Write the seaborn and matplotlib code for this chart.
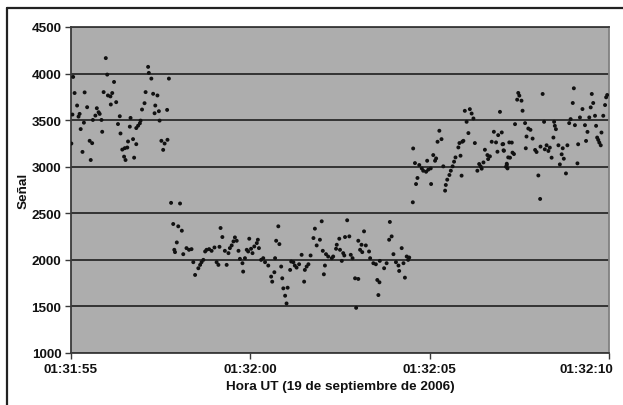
import matplotlib
matplotlib.use("Agg")
import matplotlib.pyplot as plt
import matplotlib.transforms as mtransforms
import seaborn as sns
import pandas as pd
from matplotlib.ticker import FuncFormatter, FixedLocator
from matplotlib.lines import Line2D

# seconds after 01:31:55 UT and signal values
seg1_t = [0.97, 0.06, 1.01, 2.15, 2.17, 2.24, 2.73, 1.20, 0.10, 0.38, 0.91, 1.03, 1.10, 1.15,
          2.08, 2.29, 2.41, 0.17, 0.45, 1.11, 1.26, 2.05, 2.35, 1.98, 2.45, 2.68, 2.33, 0.04,
          0.24, 0.21, 0.72, 0.77, 0.80, 0.68, 0.36, 0.61, 0.85, 1.36, 1.66, 1.31, 1.64, 1.82,
          1.87, 1.92, 1.94, 2.47, 0.27, 0.87, 1.38, 1.73, 1.59, 1.82, 0.52, 0.59, 2.52, 2.61,
          2.69, 2.57, 1.43, 1.50, 1.57, 0.32, 1.48, 1.52, 1.76, 0.55, 0.01]
seg1_v = [4166, 3964, 3989, 4072, 4007, 3946, 3946, 3910, 3791, 3798, 3801, 3765, 3755, 3791,
          3801, 3783, 3765, 3657, 3639, 3668, 3693, 3682, 3657, 3614, 3596, 3610, 3574, 3560,
          3567, 3538, 3628, 3585, 3567, 3549, 3473, 3502, 3502, 3542, 3524, 3458, 3430, 3415,
          3440, 3466, 3495, 3495, 3404, 3375, 3357, 3296, 3271, 3242, 3278, 3253, 3278, 3249,
          3289, 3181, 3184, 3199, 3206, 3159, 3108, 3072, 3097, 3072, 3249]

seg2_t = [2.79, 3.04, 2.85, 2.99, 3.09, 2.95, 2.88, 2.90, 3.13, 3.22, 3.29, 3.36, 3.41, 3.46,
          3.55, 3.60, 3.64, 3.69, 3.74, 3.78, 3.85, 3.92, 4.00, 4.06, 4.11, 4.14, 4.17, 4.22,
          4.29, 4.34, 4.39, 4.43, 4.48, 4.53, 4.57, 4.62, 4.67, 4.71, 4.78, 4.80, 4.85, 4.90,
          4.94, 4.97, 5.02, 5.06, 5.11, 5.18, 5.21, 5.24, 5.30, 5.36, 5.41, 5.50, 5.58, 5.61,
          5.67, 5.69, 5.72, 5.78, 5.81, 5.86, 5.89, 5.92, 5.97, 6.01, 6.04, 6.11, 6.20,
          6.99, 7.70, 8.89, 6.80, 8.17, 6.76, 6.94, 7.64, 7.76, 7.48, 8.94, 8.87, 8.01, 6.85,
          7.41, 8.10, 8.22, 7.02, 7.39, 7.50, 7.59, 7.80, 8.06, 8.12, 8.31, 6.43, 6.68, 7.11,
          7.17, 7.27, 7.31, 7.55, 7.62, 7.85, 8.34, 8.43, 8.50, 8.61, 8.73, 8.80, 8.99, 9.06,
          9.13, 9.22, 9.27, 9.36, 9.40, 9.43, 6.14, 6.24, 6.29, 6.36, 6.52, 6.57, 6.62, 6.50,
          7.08, 7.05, 7.92, 8.01, 8.54, 8.60, 8.57, 7.95, 9.31, 9.15]
seg2_v = [2612, 2605, 2385, 2360, 2313, 2187, 2108, 2083, 2061, 2126, 2108, 2115, 1975, 1838,
          1910, 1946, 1975, 2000, 2090, 2108, 2115, 2097, 2133, 1975, 1946, 2140, 2342, 2245,
          2097, 1946, 2072, 2126, 2155, 2198, 2241, 2205, 2097, 2011, 1964, 1874, 2018, 2108,
          2090, 2227, 2119, 2072, 2144, 2180, 2216, 2126, 2000, 2018, 1975, 1939, 1820, 1766,
          1867, 2018, 2205, 2360, 2169, 1928, 1802, 1694, 1615, 1532, 1701, 1892, 1975,
          2414, 2425, 2407, 2335, 2306, 2234, 2216, 2245, 2252, 2227, 2252, 2216, 2205, 2155,
          2162, 2162, 2155, 2097, 2119, 2108, 2072, 2054, 2108, 2083, 2090, 2054, 2047, 2061,
          2036, 2018, 2036, 1989, 2047, 2018, 2018, 1964, 1953, 1989, 1910, 1964, 2061, 1975,
          1939, 2126, 1964, 2036, 2000, 2025, 1982, 1939, 1917, 1953, 1892, 1928, 1953, 1766,
          1939, 1845, 1802, 1795, 1784, 1759, 1622, 1485, 1809, 1881]

seg3_t = [9.53, 9.54, 9.62, 9.66, 9.59, 9.71, 9.78, 9.82, 9.90, 9.96, 10.03, 9.93, 10.04,
          10.10, 10.15, 10.18, 10.22, 10.27, 10.33, 10.38, 10.43, 10.45, 10.49, 10.55, 10.59,
          10.64, 10.68, 10.72, 10.80, 10.86, 10.89, 10.83, 10.91, 10.94, 10.98, 11.03, 11.08,
          11.12, 11.17, 11.22, 11.26, 11.33, 11.38, 11.42, 11.45, 11.50, 11.54, 11.61, 11.63,
          11.68, 11.73, 11.79, 11.85, 11.89, 11.91, 11.96, 12.01, 12.05, 12.07, 12.15, 12.19,
          12.22,
          12.47, 12.50, 12.44, 12.56, 12.59, 13.15, 12.38, 12.66, 12.75, 12.81, 12.70, 12.87,
          12.03, 12.29, 12.06, 12.31, 12.35, 12.24, 12.15, 12.13, 12.17, 12.68, 12.94, 12.98,
          13.09, 13.21, 13.26, 13.31, 13.35, 13.40, 13.19, 13.47, 13.49, 13.52, 13.45, 13.59,
          13.68, 13.71, 13.74, 13.63, 13.80, 13.84, 13.03, 13.08, 13.89, 13.93, 13.99, 14.02,
          14.05, 14.12, 14.14, 14.19, 14.26, 14.33, 14.36, 14.40, 14.45, 14.49, 14.52, 14.56,
          14.61, 14.64, 14.67, 14.70, 14.73, 14.77, 14.79, 14.84, 14.89, 14.92, 14.95]
seg3_v = [2618, 3196, 2814, 2879, 3039, 3018, 2982, 2957, 2946, 2968, 2982, 3064, 2814,
          3125, 3064, 3089, 3268, 3386, 3296, 3004, 2743, 2804, 2861, 2911, 2957,
          3004, 3054, 3100, 3207, 3118, 2904, 3254, 3268, 3278, 3600, 3482, 3361,
          3618, 3571, 3518, 3254, 2957, 3029, 3004, 2979, 3046, 3182, 3125, 3082,
          3111, 3268, 3375, 3261, 3161, 3339, 3589, 3368, 3243, 3171, 3018, 3100,
          3261,
          3792, 3763, 3720, 3709, 3601, 3781, 3457, 3468, 3410, 3396, 3324, 3302,
          3241, 3259, 3176, 3151, 3136, 3097, 3032, 3000, 2982, 3198, 3180, 3158,
          3216, 3187, 3230, 3169, 3205, 3097, 3482, 3482, 3439, 3403, 3313, 3230,
          3133, 3198, 3086, 3025, 2928, 3230, 2906, 2654, 3468, 3511, 3684, 3842,
          3446, 3036, 3241, 3529, 3619, 3446, 3277, 3374, 3529, 3637, 3781, 3684,
          3547, 3439, 3313, 3288, 3259, 3230, 3367, 3547, 3662, 3745, 3770]

x_ticks = [0, 5, 10, 15]
x_tick_labels = ["01:31:55", "01:32:00", "01:32:05", "01:32:10"]
y_ticks = [1000, 1500, 2000, 2500, 3000, 3500, 4000, 4500]

df = pd.DataFrame({"t": seg1_t + seg2_t + seg3_t, "v": seg1_v + seg2_v + seg3_v})

sns.set_theme(style="white")
plt.rcParams["font.family"] = ["Liberation Sans", "DejaVu Sans"]

fig = plt.figure(figsize=(6.23, 4.06), dpi=100)
ax = fig.add_axes([71/623, 1-354/406, (609-71)/623, (354-28)/406])
ax.set_facecolor("#adadad")

sns.scatterplot(data=df, x="t", y="v", ax=ax, s=8, color="#111111", edgecolor="none",
                linewidth=0, zorder=3, legend=False)

ax.set_xlim(0, 15)
ax.set_ylim(1000, 4500)
ax.xaxis.set_major_locator(FixedLocator(x_ticks))
ax.xaxis.set_major_formatter(FuncFormatter(
    lambda val, pos: x_tick_labels[x_ticks.index(int(round(val)))] if int(round(val)) in x_ticks else ""))
ax.set_yticks(y_ticks)
ax.yaxis.grid(True, color="#2a2a2a", linewidth=1.3, zorder=1)
ax.xaxis.grid(False)
ax.set_axisbelow(True)

for side in ["left", "bottom", "top"]:
    ax.spines[side].set_color("#3a3a3a")
    ax.spines[side].set_linewidth(1.3)
ax.spines["right"].set_color("#808080")
ax.spines["right"].set_linewidth(1.3)

ax.tick_params(axis="both", which="major", labelsize=9.7, length=4, width=1,
               color="#3a3a3a", direction="out", pad=3, left=True, bottom=True)
for lab in ax.get_xticklabels() + ax.get_yticklabels():
    lab.set_fontweight("bold")
    lab.set_color("#111111")

# keep the last time label inside the figure, as in the reference
last = ax.get_xticklabels()[-1]
last.set_horizontalalignment("right")
last.set_transform(last.get_transform() + mtransforms.ScaledTranslation(4/100, 0, fig.dpi_scale_trans))

ax.set_xlabel("Hora UT (19 de septiembre de 2006)", fontsize=9.7, fontweight="bold",
              color="#111111", labelpad=4)
ax.set_ylabel("Señal", fontsize=9.7, fontweight="bold", color="#111111", labelpad=1)

# outer frame (top and left edges visible)
fig.add_artist(Line2D([7/623, 1.0], [1-8.5/406, 1-8.5/406], transform=fig.transFigure,
                      color="#222222", linewidth=1.6))
fig.add_artist(Line2D([7/623, 7/623], [0.0, 1-8.5/406], transform=fig.transFigure,
                      color="#222222", linewidth=1.6))

fig.savefig("out.png", dpi=100)
